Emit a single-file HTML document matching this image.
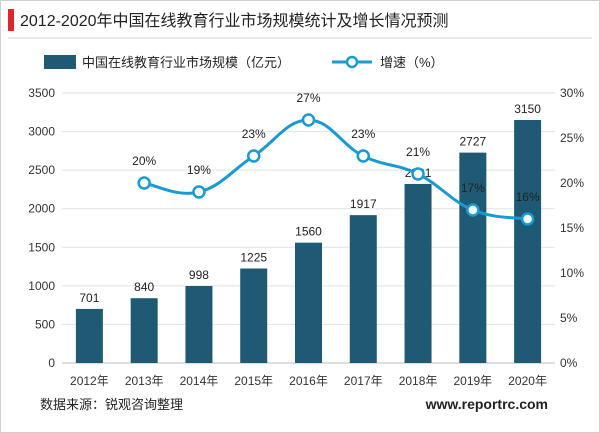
<!DOCTYPE html>
<html><head><meta charset="utf-8"><style>
body{margin:0;background:#fff;}
#wrap{position:relative;width:600px;height:433px;overflow:hidden;font-family:"Liberation Sans","Noto Sans CJK SC",sans-serif;}
</style></head><body>
<div id="wrap">
<svg id="chart" width="600" height="433"></svg>
</div>
<script>
const categories=["2012年","2013年","2014年","2015年","2016年","2017年","2018年","2019年","2020年"];
const sizeValues=[701,840,998,1225,1560,1917,2321,2727,3150];
const growthValues=[null,20,19,23,27,23,21,17,16];
const leftTicks=[0,500,1000,1500,2000,2500,3000,3500];
const rightTicks=[0,5,10,15,20,25,30];

const NS="http://www.w3.org/2000/svg";
const svg=document.getElementById('chart');
function el(t,a,txt){const e=document.createElementNS(NS,t);for(const k in a)e.setAttribute(k,a[k]);if(txt!=null)e.textContent=txt;svg.appendChild(e);return e;}
const x0=62,x1=555,yTop=93,yBot=363;
const step=(x1-x0)/categories.length;
const xs=i=>x0+step*(i+0.5);
const yL=v=>yBot-(v/3500)*(yBot-yTop);
const yR=v=>yBot-(v/30)*(yBot-yTop);

let e;
e=el('rect',{x:0.5,y:0.5,width:599,height:432,fill:'#fff',stroke:'#d0d0d0'});

e=el('rect',{x:8,y:9,width:6,height:22,fill:'#e0262a'});

e=el('text',{x:20,y:26,'font-size':16,fill:'#222'},'2012-2020年中国在线教育行业市场规模统计及增长情况预测');

e=el('line',{x1:8,y1:38,x2:592,y2:38,stroke:'#ccc'});


// legend
e=el('rect',{x:44,y:55,width:32,height:14,fill:'#1e5a73'});

e=el('text',{x:82,y:67,'font-size':13,fill:'#222'},'中国在线教育行业市场规模（亿元）');

e=el('line',{x1:332,y1:62,x2:372,y2:62,stroke:'#1b9ad1','stroke-width':3});

e=el('circle',{cx:352,cy:62,r:5,fill:'#fff',stroke:'#1b9ad1','stroke-width':2.5});

e=el('text',{x:380,y:67,'font-size':13,fill:'#222'},'增速（%）');


leftTicks.forEach(v=>{
  const y=yL(v);
  e=el('line',{x1:x0,y1:y,x2:x1,y2:y,stroke:v===0?'#bbb':'#e2e2e2'});
  
  e=el('text',{x:55,y:y+4,'font-size':12,'text-anchor':'end',fill:'#333'},String(v));
  
});
rightTicks.forEach(v=>{
  e=el('text',{x:560,y:yR(v)+4,'font-size':12,fill:'#333'},v+'%');
  
});
categories.forEach((c,i)=>{
  const bw=27,y=yL(sizeValues[i]);
  e=el('rect',{x:xs(i)-bw/2,y:y,width:bw,height:yBot-y,fill:'#1e5a73'});
  
  e=el('text',{x:xs(i),y:y-7,'font-size':12,'text-anchor':'middle',fill:'#222'},String(sizeValues[i]));
  
  e=el('text',{x:xs(i),y:385,'font-size':12,'text-anchor':'middle',fill:'#333'},c);
  
});
// smooth line
const pts=[];growthValues.forEach((v,i)=>{if(v!=null)pts.push([xs(i),yR(v),v]);});
let d='M'+pts[0][0]+','+pts[0][1];
for(let i=0;i<pts.length-1;i++){
  const p0=pts[Math.max(0,i-1)],p1=pts[i],p2=pts[i+1],p3=pts[Math.min(pts.length-1,i+2)];
  const t=0.2;
  d+=' C'+(p1[0]+(p2[0]-p0[0])*t)+','+(p1[1]+(p2[1]-p0[1])*t)+' '+(p2[0]-(p3[0]-p1[0])*t)+','+(p2[1]-(p3[1]-p1[1])*t)+' '+p2[0]+','+p2[1];
}
e=el('path',{d:d,fill:'none',stroke:'#1b9ad1','stroke-width':3});

pts.forEach(p=>{
  e=el('circle',{cx:p[0],cy:p[1],r:5.5,fill:'#fff',stroke:'#1b9ad1','stroke-width':2.5});
  
  e=el('text',{x:p[0],y:p[1]-18,'font-size':12,'text-anchor':'middle',fill:'#222'},p[2]+'%');
  
});
e=el('text',{x:40,y:409,'font-size':13,fill:'#222'},'数据来源：锐观咨询整理');

e=el('text',{x:548,y:409,'font-size':14,'font-weight':'bold','text-anchor':'end',fill:'#222'},'www.reportrc.com');

</script>
</body></html>
